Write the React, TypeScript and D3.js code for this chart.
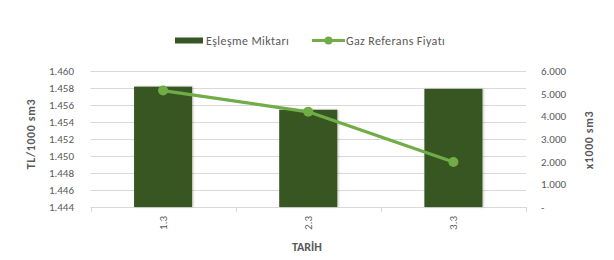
import React from "react";
import * as d3 from "d3";

const categories = ["1.3", "2.3", "3.3"];
const matchVolume = [5310, 4290, 5210]; // x1000 sm3 (right axis)
const refPrice = [1457.7, 1455.2, 1449.3]; // TL/1000 sm3 (left axis)
const leftTicks = [1444, 1446, 1448, 1450, 1452, 1454, 1456, 1458, 1460];
const rightTicks = [0, 1000, 2000, 3000, 4000, 5000, 6000];

const W = 614;
const H = 260;
const M = { left: 90.5, right: 88, top: 71, bottom: 53 };
const FONT = "Calibri, Carlito, Lato, 'Open Sans', sans-serif";
const TXT = "#595959";

const fmt = (v: number) => (v === 0 ? "-" : d3.format(",")(v).replace(/,/g, "."));

export default function App() {
  const x = d3
    .scaleBand<string>()
    .domain(categories)
    .range([M.left, W - M.right])
    .paddingInner(0)
    .paddingOuter(0);
  const yL = d3.scaleLinear().domain([1444, 1460]).range([H - M.bottom, M.top]);
  const yR = d3.scaleLinear().domain([0, 6000]).range([H - M.bottom, M.top]);
  const bw = x.bandwidth() / 2.5;
  const line = d3
    .line<number>()
    .x((_, i) => (x(categories[i]) as number) + x.bandwidth() / 2)
    .y((d) => yL(d));
  const base = H - M.bottom;

  return (
    <svg
      width={W}
      height={H}
      style={{ position: "absolute", left: 0, top: 0, background: "#fff" }}
      fontFamily={FONT}
    >
      <defs>
        <filter id="sh" x="-20%" y="-20%" width="140%" height="140%">
          <feDropShadow dx="1" dy="0" stdDeviation="1.2" floodColor="#000" floodOpacity="0.25" />
        </filter>
      </defs>
      {/* legend */}
      <rect x={175} y={37.5} width={28} height={6} fill="#375623" />
      <text x={206} y={44.5} fontSize={12} letterSpacing={0.4} fill={TXT}>
        Eşleşme Miktarı
      </text>
      <line x1={312} x2={345} y1={40.5} y2={40.5} stroke="#70AD47" strokeWidth={3} />
      <circle cx={328.5} cy={40.5} r={4} fill="#70AD47" />
      <text x={346} y={44.5} fontSize={12} letterSpacing={0.4} fill={TXT}>
        Gaz Referans Fiyatı
      </text>

      {/* gridlines */}
      {leftTicks.map((t) => (
        <line
          key={t}
          x1={M.left}
          x2={W - M.right}
          y1={Math.round(yL(t)) + 0.5}
          y2={Math.round(yL(t)) + 0.5}
          stroke="#D9D9D9"
          strokeWidth={1}
        />
      ))}
      {/* x ticks */}
      {[...categories.map((c) => x(c) as number), W - M.right].map((px, i) => (
        <line
          key={i}
          x1={Math.round(px) + 0.5}
          x2={Math.round(px) + 0.5}
          y1={base}
          y2={base + 5}
          stroke="#D9D9D9"
        />
      ))}

      {/* bars */}
      {matchVolume.map((v, i) => {
        const cx = (x(categories[i]) as number) + x.bandwidth() / 2;
        return (
          <rect
            key={i}
            x={cx - bw / 2}
            y={yR(v)}
            width={bw}
            height={base - yR(v)}
            fill="#375623"
            filter="url(#sh)"
          />
        );
      })}

      {/* line */}
      <path d={line(refPrice) || ""} fill="none" stroke="#70AD47" strokeWidth={3.25} strokeLinejoin="round" />
      {refPrice.map((v, i) => (
        <circle
          key={i}
          cx={(x(categories[i]) as number) + x.bandwidth() / 2}
          cy={yL(v)}
          r={5}
          fill="#70AD47"
        />
      ))}

      {/* left ticks */}
      {leftTicks.map((t) => (
        <text key={t} x={74} y={yL(t) + 4} fontSize={11} fill={TXT} textAnchor="end">
          {fmt(t)}
        </text>
      ))}
      {/* right ticks */}
      {rightTicks.map((t) => (
        <text key={t} x={541} y={yR(t) + 4} fontSize={11} fill={TXT} textAnchor="start">
          {fmt(t)}
        </text>
      ))}
      {/* x labels */}
      {categories.map((c) => {
        const cx = (x(c) as number) + x.bandwidth() / 2 + 4;
        return (
          <text
            key={c}
            transform={`translate(${cx},216) rotate(-90)`}
            fontSize={11}
            fill={TXT}
            textAnchor="end"
          >
            {c}
          </text>
        );
      })}
      {/* axis titles */}
      <text
        transform={`translate(34.5,134) rotate(-90)`}
        fontSize={12}
        letterSpacing={0.6}
        fontWeight="bold"
        fill={TXT}
        textAnchor="middle"
      >
        TL/1000 sm3
      </text>
      <text
        transform={`translate(592.5,140) rotate(-90)`}
        fontSize={12}
        letterSpacing={0.6}
        fontWeight="bold"
        fill={TXT}
        textAnchor="middle"
      >
        x1000 sm3
      </text>
      <text x={307} y={251} fontSize={12} fontWeight="bold" fill={TXT} textAnchor="middle">
        TARİH
      </text>
    </svg>
  );
}
